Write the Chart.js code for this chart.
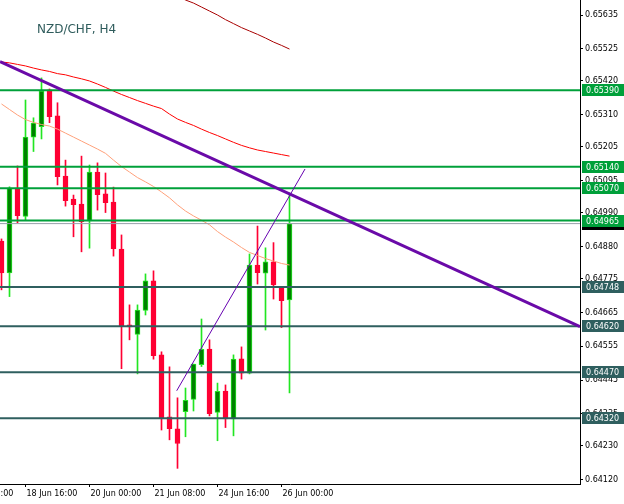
<!DOCTYPE html>
<html><head><meta charset="utf-8">
<script src="https://cdn.jsdelivr.net/npm/chart.js@4.4.1/dist/chart.umd.min.js"></script>
<style>html,body{margin:0;padding:0;background:#fff;}canvas{display:block;}</style>
</head><body>
<canvas id="c" width="624" height="504"></canvas>
<script>
const chartTitle = 'NZD/CHF, H4';
// OHLC of each H4 candle (index 0 = 18 Jun 04:00)
const opens  = [0.64898,0.64794,0.65071,0.64978,0.65237,0.65271,0.65391,0.65306,0.65110,0.65035,0.65019,0.64964,0.65123,0.65052,0.65025,0.64872,0.64625,0.64594,0.64672,0.64768,0.64527,0.64325,0.64286,0.64342,0.64382,0.64495,0.64546,0.64339,0.64409,0.64318,0.64514,0.64467,0.64820,0.64793,0.64830,0.64748,0.64706];
const highs  = [0.64905,0.65075,0.65143,0.65358,0.65300,0.65430,0.65394,0.65349,0.65162,0.65048,0.65175,0.65146,0.65153,0.65120,0.65074,0.64918,0.64690,0.64690,0.64791,0.64801,0.64537,0.64488,0.64387,0.64419,0.64497,0.64644,0.64576,0.64435,0.64429,0.64527,0.64553,0.64856,0.64947,0.64876,0.64893,0.64748,0.65055];
const lows   = [0.64739,0.64717,0.64958,0.64967,0.65190,0.65231,0.65284,0.65081,0.65012,0.64912,0.64863,0.64875,0.64999,0.64991,0.64849,0.64482,0.64576,0.64465,0.64657,0.64513,0.64282,0.64250,0.64157,0.64260,0.64344,0.64489,0.64328,0.64247,0.64290,0.64263,0.64448,0.64465,0.64758,0.64608,0.64709,0.64616,0.64403];
const closes = [0.64794,0.65071,0.64981,0.65237,0.65283,0.65387,0.65304,0.65108,0.65030,0.65017,0.64961,0.65123,0.65049,0.65023,0.64873,0.64619,0.64618,0.64673,0.64768,0.64524,0.64321,0.64286,0.64238,0.64379,0.64497,0.64545,0.64335,0.64408,0.64318,0.64513,0.64467,0.64820,0.64795,0.64830,0.64755,0.64704,0.64955];
// moving averages
const maSlow = [null,null,null,null,null,null,null,null,null,null,null,null,null,null,null,null,null,null,null,null,null,0.65708,0.65696,0.65684,0.65674,0.65661,0.65648,0.65635,0.65620,0.65607,0.65594,0.65583,0.65572,0.65560,0.65547,0.65536,0.65524];
const maMid = [0.65482,0.65479,0.65474,0.65469,0.65462,0.65456,0.65451,0.65444,0.65440,0.65433,0.65427,0.65420,0.65410,0.65399,0.65387,0.65376,0.65366,0.65356,0.65347,0.65338,0.65330,0.65312,0.65296,0.65285,0.65275,0.65263,0.65252,0.65242,0.65231,0.65220,0.65210,0.65202,0.65195,0.65190,0.65185,0.65180,0.65175];
const maFast = [0.65345,0.65327,0.65309,0.65294,0.65285,0.65278,0.65273,0.65263,0.65250,0.65237,0.65224,0.65211,0.65198,0.65184,0.65162,0.65141,0.65123,0.65105,0.65091,0.65076,0.65058,0.65039,0.65016,0.64996,0.64980,0.64966,0.64951,0.64929,0.64911,0.64895,0.64877,0.64861,0.64851,0.64841,0.64833,0.64825,0.64820];
// x-axis tick labels (by candle index)
const tickIndex  = [-5,3,11,19,27,35];
const tickLabels = ['17 Jun 08:00','18 Jun 16:00','20 Jun 00:00','21 Jun 08:00','24 Jun 16:00','26 Jun 00:00'];
// price axis tick labels
const yTicks = [0.65635,0.65525,0.65420,0.65310,0.65205,0.65095,0.64990,0.64880,0.64775,0.64665,0.64555,0.64445,0.64335,0.64230,0.64120];
// horizontal levels
const greenLevels = [0.65390,0.65140,0.65070,0.64965];
const slateLevels = [0.64748,0.64620,0.64470,0.64320];
const currentPrice = 0.64955;
// trend lines [index, price]
const trendMainX = [-0.1875, 72.3125], trendMainY = [0.65483, 0.64619];
const trendThinX = [21.9, 37.94],      trendThinY = [0.64410, 0.65133];

const X_MIN = -0.1875, X_MAX = 72.3125, Y_MIN = 0.64106, Y_MAX = 0.65684;
const C_GREEN = '#00a03a', C_SLATE = '#2f5f5f', C_UPFILL = '#008000', C_UPLINE = '#22e622', C_DOWN = '#ff0033';
const FONT = {family: 'DejaVu Sans', size: 8};

const up = opens.map((o,i)=> closes[i] >= o);
const datasets = [];
datasets.push({type:'bar', label:'wicks', data: lows.map((l,i)=>({x:i, y:[l, highs[i]]})),
  backgroundColor: up.map(u=>u?C_UPLINE:C_DOWN), borderWidth:0, barThickness:1, grouped:false, order:30});
datasets.push({type:'bar', label:'bodies', data: opens.map((o,i)=>({x:i, y:[o, closes[i]]})),
  backgroundColor: up.map(u=>u?C_UPFILL:C_DOWN), borderColor: up.map(u=>u?C_UPLINE:C_DOWN),
  borderWidth:1, borderSkipped:false, barThickness:5, grouped:false, order:29});
function lineDs(vals, color, w, order){
  return {type:'line', data: vals.map((v,i)=>({x:i, y:v})), borderColor:color, borderWidth:w,
    pointRadius:0, tension:0, fill:false, order:order, spanGaps:false};
}
datasets.push(lineDs(maSlow, '#a80000', 1, 20));
datasets.push(lineDs(maMid, '#ff0000', 1, 20));
datasets.push(lineDs(maFast, '#ffa07a', 1, 20));
function hline(v, color, w, order){
  return {type:'line', data:[{x:X_MIN,y:v},{x:X_MAX,y:v}], borderColor:color, borderWidth:w, pointRadius:0, order:order};
}
datasets.push(hline(currentPrice, '#98a0aa', 1, 12));
greenLevels.forEach(v=>datasets.push(hline(v, C_GREEN, 2, 10)));
slateLevels.forEach(v=>datasets.push(hline(v, C_SLATE, 2, 10)));
datasets.push({type:'line', data: trendMainX.map((x,i)=>({x, y:trendMainY[i]})), borderColor:'#6a0aa8', borderWidth:3, pointRadius:0, order:2});
datasets.push({type:'line', data: trendThinX.map((x,i)=>({x, y:trendThinY[i]})), borderColor:'#6600b0', borderWidth:1, pointRadius:0, order:1});

const overlay = {
  id:'overlay',
  afterDraw(chart){
    const ctx = chart.ctx, ys = chart.scales.y;
    ctx.save();
    ctx.font = '12px "DejaVu Sans"';
    ctx.fillStyle = '#2f5c5c';
    ctx.textBaseline = 'alphabetic';
    ctx.textAlign = 'left';
    ctx.fillText(chartTitle, 37, 33);
    const box = (v, color) => {
      const py = Math.round(ys.getPixelForValue(v));
      ctx.fillStyle = color;
      ctx.fillRect(582, py - 6, 42, 12);
      ctx.fillStyle = '#ffffff';
      ctx.font = '8px "DejaVu Sans"';
      ctx.textBaseline = 'middle';
      ctx.fillText(v.toFixed(5), 586, py + 0.5);
    };
    box(currentPrice, '#000000');
    slateLevels.forEach(v=>box(v, C_SLATE));
    greenLevels.forEach(v=>box(v, C_GREEN));
    ctx.restore();
  }
};

new Chart(document.getElementById('c'), {
  type:'bar',
  data:{datasets},
  plugins:[overlay],
  options:{
    responsive:false, animation:false, devicePixelRatio:1,
    layout:{padding:0},
    plugins:{legend:{display:false}, tooltip:{enabled:false}, title:{display:false}},
    scales:{
      x:{type:'linear', min:X_MIN, max:X_MAX, offset:false, position:'bottom',
        afterBuildTicks: s => { s.ticks = tickIndex.map(v=>({value:v})); },
        afterFit: s => { s.height = 20; s.paddingLeft = 0; s.paddingRight = 0; },
        ticks:{autoSkip:false, maxRotation:0, minRotation:0, align:'start', padding:2, labelOffset:1, color:'#000', font:FONT,
          callback:(v,i)=> tickLabels[i]},
        grid:{drawOnChartArea:false, drawTicks:true, tickLength:3, color:'#000', offset:false},
        border:{display:true, color:'#000', width:1}
      },
      y:{type:'linear', position:'right', min:Y_MIN, max:Y_MAX,
        afterBuildTicks: s => { s.ticks = yTicks.map(v=>({value:v})); },
        afterFit: s => { s.width = 44; s.paddingTop = 0; s.paddingBottom = 0; },
        ticks:{autoSkip:false, padding:2, color:'#000', font:FONT, callback:v=>Number(v).toFixed(5)},
        grid:{drawOnChartArea:false, drawTicks:true, tickLength:3, color:'#000'},
        border:{display:true, color:'#000', width:1}
      }
    }
  }
});
</script>
</body></html>
